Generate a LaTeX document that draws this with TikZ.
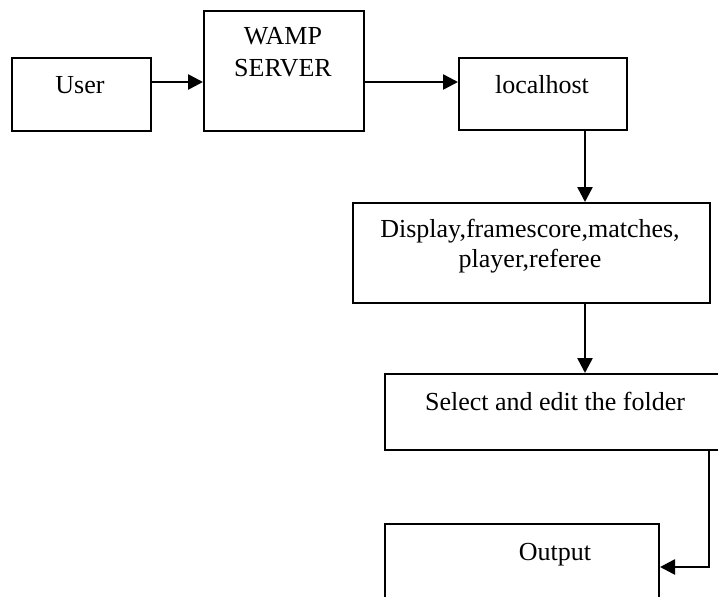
\documentclass[tikz,border=0pt]{standalone}
\usepackage{fontspec}
\setmainfont{Liberation Serif}
\usetikzlibrary{arrows.meta}
\begin{document}
\begin{tikzpicture}[x=1pt,y=-1pt,
  box/.style={draw, line width=2pt, rectangle, inner sep=0pt, anchor=north west},
  lbl/.style={anchor=base, inner sep=0pt, font=\fontsize{26}{31}\selectfont},
  arr/.style={line width=2.6pt, -{Triangle[length=15pt,width=15pt]}}]
\useasboundingbox (0,0) rectangle (718,597);
\clip (0,0) rectangle (718,597);
\fill[white] (0,0) rectangle (718,597);
% boxes
\node[box, minimum width=139pt, minimum height=73pt] (user) at (11,57) {};
\node[box, minimum width=160pt, minimum height=120pt] (wamp) at (203,10) {};
\node[box, minimum width=168pt, minimum height=72pt] (lh) at (458,57) {};
\node[box, minimum width=357pt, minimum height=100pt] (disp) at (352,202) {};
\node[box, minimum width=342pt, minimum height=76pt] (sel) at (384,373) {};
\node[box, minimum width=274pt, minimum height=100pt] (out) at (384,523) {};
% texts
\node[lbl] (tuser) at (80,93) {User};
\node[lbl] (twamp1) at (283,45) {WAMP};
\node[lbl] (twamp2) at (283,76) {SERVER};
\node[lbl] (tlh) at (542,93) {localhost};
\node[lbl] (tdisp1) at (530,237) {Display,framescore,matches,};
\node[lbl] (tdisp2) at (530,267) {player,referee};
\node[lbl] (tsel) at (555,410) {Select and edit the folder};
\node[lbl] (tout) at (555,560) {Output};
% connectors
\coordinate (ya) at (0,82);
\coordinate (xa) at (585,0);
\coordinate (xb) at (709,0);
\coordinate (yb) at (0,567);
\draw[arr] (user.east |- ya) -- (wamp.west |- ya);
\draw[arr] (wamp.east |- ya) -- (lh.west |- ya);
\draw[arr] (lh.south -| xa) -- (disp.north -| xa);
\draw[arr] (disp.south -| xa) -- (sel.north -| xa);
\draw[arr] (sel.south -| xb) |- (out.east |- yb);
\end{tikzpicture}
\end{document}
